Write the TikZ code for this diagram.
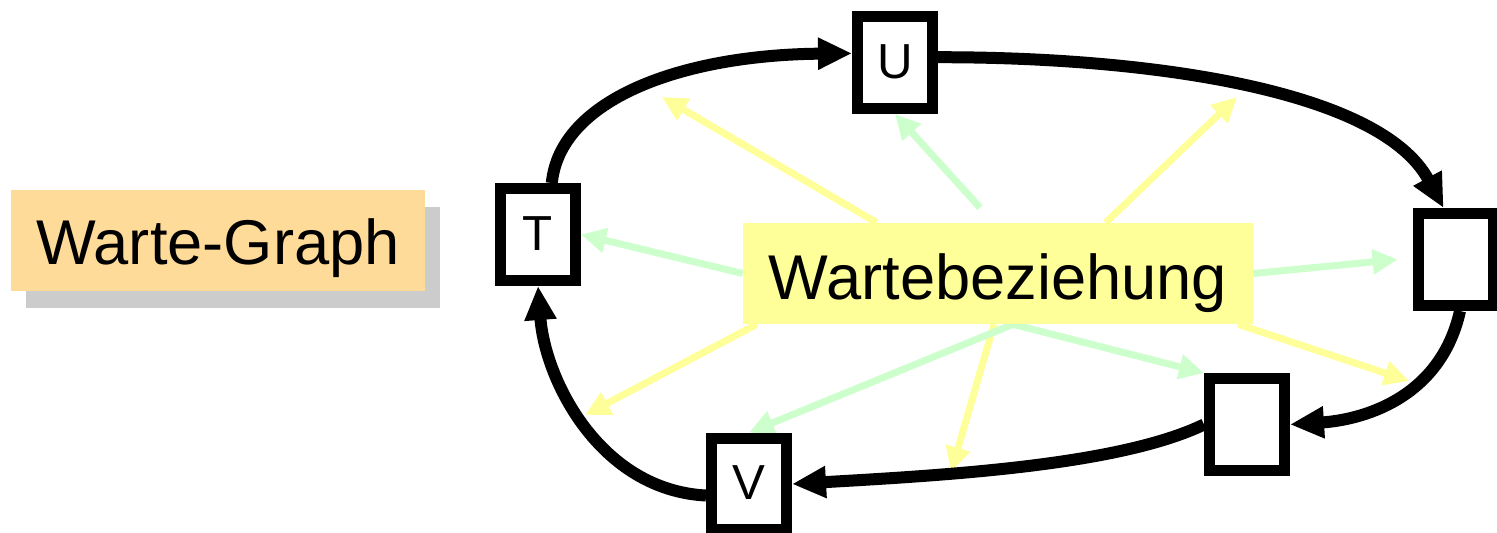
\documentclass[tikz,border=0pt]{standalone}
\usepackage{fontspec}
\setmainfont{Liberation Sans}
\usetikzlibrary{arrows.meta,backgrounds,shadows}
\definecolor{titleorg}{HTML}{FFDB99}
\definecolor{shadowgry}{HTML}{CCCCCC}
\definecolor{waitylw}{HTML}{FFFF99}
\definecolor{waitgrn}{HTML}{CCFFCC}

\tikzset{
	proc/.style={draw, fill=white, line width=0.22cm, minimum width=1.5cm, minimum height=1.84cm,
		inner sep=0pt, font=\fontsize{28}{30}\selectfont, text height=18pt, text depth=0pt},
	waitarc/.style={line width=0.24cm, -{Triangle[length=0.68cm, width=0.6cm]}},
	ylwarrow/.style={line width=0.14cm, waitylw, -{Triangle[length=0.5cm, width=0.48cm]}},
	grnarrow/.style={line width=0.14cm, waitgrn, -{Triangle[length=0.5cm, width=0.48cm]}},
	bigtext/.style={font=\fontsize{36}{40}\selectfont, inner sep=0pt, minimum height=2.02cm}
}

\begin{document}
\begin{tikzpicture}[x=0.02cm, y=-0.02cm]
	\useasboundingbox (0, 0) rectangle (1497, 533);

	\node[bigtext, fill=titleorg, minimum width=8.28cm, text height=27pt, text depth=0pt,
		drop shadow={shadow xshift=0.3cm, shadow yshift=-0.34cm, fill=shadowgry, opacity=1}] (title) at (218, 240.5) {Warte-Graph};

	\node[proc] (T) at (538, 234.5) {T};
	\node[proc] (U) at (895, 62.5) {U};
	\node[proc] (R) at (1455.5, 259.5) {};
	\node[proc] (Q) at (1247, 424.5) {};
	\node[proc] (V) at (749, 484) {V};

	\node[bigtext, fill=waitylw, minimum width=10.2cm, text height=30pt, text depth=0pt] (wb) at (998, 273.5) {Wartebeziehung};

	% tips of the yellow arrows sit on the waiting arcs
	\coordinate (eTU) at (662, 97);
	\coordinate (eUR) at (1237, 97);
	\coordinate (eRQ) at (1409, 381);
	\coordinate (eQV) at (951, 472);
	\coordinate (eVT) at (585, 415);

	\begin{pgfonlayer}{background}
		\draw[ylwarrow] ([xshift=2.68cm]wb.north west) -- (eTU);
		\draw[ylwarrow] ([xshift=7.26cm]wb.north west) -- (eUR);
		\draw[ylwarrow] ([xshift=-0.3cm]wb.south east) -- (eRQ);
		\draw[ylwarrow] ([xshift=-0.08cm]wb.south) -- (eQV);
		\draw[ylwarrow] ([xshift=0.28cm]wb.south west) -- (eVT);

		\draw[grnarrow] (wb.west) -- (T.east);
		\draw[grnarrow] ([xshift=-0.36cm, yshift=0.3cm]wb.north) -- (U.south);
		\draw[grnarrow] (wb.east) -- ([xshift=-0.3cm]R.west);
		\draw[grnarrow] ([xshift=0.3cm]wb.south) -- (Q.north west);
		\draw[grnarrow] ([xshift=0.3cm]wb.south) -- (V.north);
	\end{pgfonlayer}

	\draw[waitarc] (T.75) .. controls (560, 100) and (680, 55) .. (U.168);
	\draw[waitarc] (U.7) .. controls (1150, 57) and (1380, 90) .. (R.103);
	\draw[waitarc] (R.-85) .. controls (1440, 400) and (1360, 420) .. (Q.east);
	\draw[waitarc] (Q.west) .. controls (1120, 465) and (950, 475) .. (V.east);
	\draw[waitarc] (V.195) .. controls (600, 490) and (545, 380) .. (T.south);
\end{tikzpicture}
\end{document}
